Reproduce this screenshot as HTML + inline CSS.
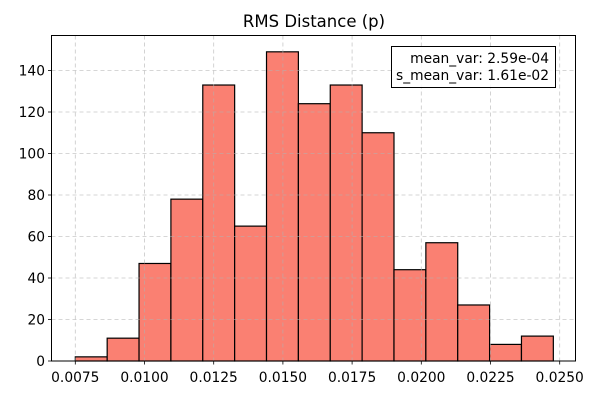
<!DOCTYPE html>
<html><head><meta charset="utf-8"><style>
body{margin:0;background:#fff}
svg{font-family:"DejaVu Sans","Liberation Sans",sans-serif}
</style></head><body>
<svg id="chart" width="600" height="400">
<rect width="600" height="400" fill="#fff"/>
<text x="314" y="27" font-size="16.5" text-anchor="middle">RMS Distance (p)</text>
<g id="bars"></g>
<g id="grid"></g>
<g id="ticks"></g>
<rect x="51.5" y="35.5" width="524" height="325.5" fill="none" stroke="#000" stroke-width="1"/>
<g>
<rect x="391.5" y="46.5" width="164" height="41" fill="#fff" fill-opacity="0.85" stroke="#000" stroke-width="1"/>
<text x="549" y="63" font-size="13.8" text-anchor="end">mean_var: 2.59e-04</text>
<text x="549" y="80" font-size="13.8" text-anchor="end">s_mean_var: 1.61e-02</text>
</g>
</svg>
<script>
const binStart = 0.0075;
const binEnd = 0.02477;
const counts = [2,11,47,78,133,65,149,124,133,110,44,57,27,8,12];
const xTicks = [0.0075,0.0100,0.0125,0.0150,0.0175,0.0200,0.0225,0.0250];
const xTickLabels = ["0.0075","0.0100","0.0125","0.0150","0.0175","0.0200","0.0225","0.0250"];
const yTicks = [0,20,40,60,80,100,120,140];

const NS="http://www.w3.org/2000/svg";
const x = v => 75.3 + (v-0.0075)/0.0025*69.2;
const y = v => 361 - v*(290.5/140);
function mk(tag, attrs, parent){const e=document.createElementNS(NS,tag);for(const k in attrs)e.setAttribute(k,attrs[k]);parent.appendChild(e);return e;}
const bars=document.getElementById('bars'), grid=document.getElementById('grid'), ticks=document.getElementById('ticks');
const bw=(binEnd-binStart)/counts.length;
counts.forEach((c,i)=>{
  const x0=x(binStart+i*bw), x1=x(binStart+(i+1)*bw);
  const r=mk('rect',{x:x0,y:y(c),width:x1-x0,height:y(0)-y(c),fill:'#fa8072',stroke:'#000','stroke-width':1.2},bars);
  
  
});
xTicks.forEach((t,i)=>{
  const px=x(t);
  const g=mk('line',{x1:px,x2:px,y1:35.5,y2:361,stroke:'#b0b0b0','stroke-opacity':0.7,'stroke-dasharray':'4,3','stroke-width':0.8},grid);
  
  
  mk('line',{x1:px,x2:px,y1:361,y2:364.5,stroke:'#000','stroke-width':0.8},ticks);
  const tx=mk('text',{x:px,y:382,'font-size':13.8,'text-anchor':'middle'},ticks);
  tx.textContent=xTickLabels[i];
  
  
});
yTicks.forEach(t=>{
  const py=y(t);
  const g=mk('line',{x1:51.5,x2:575.5,y1:py,y2:py,stroke:'#b0b0b0','stroke-opacity':0.7,'stroke-dasharray':'4,3','stroke-width':0.8},grid);
  
  
  mk('line',{x1:48,x2:51.5,y1:py,y2:py,stroke:'#000','stroke-width':0.8},ticks);
  const tx=mk('text',{x:45,y:py+5,'font-size':13.8,'text-anchor':'end'},ticks);
  tx.textContent=String(t);
  
  
});
</script>
</body></html>
